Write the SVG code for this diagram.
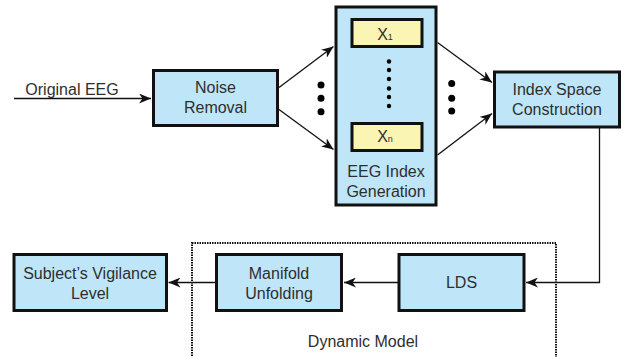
<svg xmlns="http://www.w3.org/2000/svg" width="631" height="357" viewBox="0 0 631 357">
<style>
.box{fill:#bfe6f8;stroke:#111;stroke-width:3}
.xbox{fill:#fbf5b3;stroke:#111;stroke-width:3}
.t{font-family:"Liberation Sans",Arial,sans-serif;font-size:16px;fill:#2e2e2e;text-anchor:middle}
.c{fill:none;stroke:#111;stroke-width:1.3}
.dot{fill:#000}
</style>
<defs>
<marker id="ah" viewBox="0 0 12 10" refX="12" refY="5" markerWidth="12" markerHeight="10" markerUnits="userSpaceOnUse" orient="auto">
<path d="M0,0 L12,5 L0,10 L3.5,5 z" fill="#111"/>
</marker>
</defs>
<rect x="192" y="243" width="364" height="130" fill="none" stroke="#111" stroke-width="2" stroke-dasharray="1.5,1"/>
<text class="t" x="363" y="347">Dynamic Model</text>
<g id="connectors">
<line class="c" x1="14" y1="98.5" x2="151" y2="98.5" marker-end="url(#ah)"/>
<line class="c" x1="279" y1="87.5" x2="333.5" y2="46.5" marker-end="url(#ah)"/>
<line class="c" x1="279" y1="109.5" x2="333.5" y2="149.5" marker-end="url(#ah)"/>
<line class="c" x1="437.5" y1="42.5" x2="492" y2="82.5" marker-end="url(#ah)"/>
<line class="c" x1="437.5" y1="155" x2="492" y2="113.5" marker-end="url(#ah)"/>
<polyline class="c" points="599.5,128 599.5,282.5 526,282.5" marker-end="url(#ah)"/>
<line class="c" x1="398" y1="282.5" x2="344" y2="282.5" marker-end="url(#ah)"/>
<line class="c" x1="215" y1="282.5" x2="168.5" y2="282.5" marker-end="url(#ah)"/>
</g>
<text class="t" x="72" y="95">Original EEG</text>
<g id="noise">
<rect class="box" x="153.5" y="70.5" width="124" height="55"/>
<text class="t" x="215.5" y="92.5">Noise</text>
<text class="t" x="215.5" y="112.5">Removal</text>
</g>
<g id="dots-left">
<circle class="dot" cx="321" cy="85" r="3.5"/>
<circle class="dot" cx="321" cy="98.3" r="3.5"/>
<circle class="dot" cx="321" cy="111.7" r="3.5"/>
</g>
<g id="eeg-index">
<rect class="box" x="336" y="7" width="100" height="198"/>
<rect class="xbox" x="352" y="19.5" width="70" height="27"/>
<text class="t" x="385" y="39.5">X<tspan font-size="9">1</tspan></text>
<g class="dot">
<circle cx="389" cy="61.5" r="2.2"/>
<circle cx="389" cy="70" r="2.2"/>
<circle cx="389" cy="79" r="2.2"/>
<circle cx="389" cy="88.5" r="2.2"/>
<circle cx="389" cy="97" r="2.2"/>
<circle cx="389" cy="106" r="2.2"/>
</g>
<rect class="xbox" x="352" y="123.5" width="70" height="27"/>
<text class="t" x="385" y="142">X<tspan font-size="9">n</tspan></text>
<text class="t" x="386" y="177">EEG Index</text>
<text class="t" x="386" y="196.5">Generation</text>
</g>
<g id="dots-right">
<circle class="dot" cx="451.7" cy="83.5" r="3.5"/>
<circle class="dot" cx="451.7" cy="98.3" r="3.5"/>
<circle class="dot" cx="451.7" cy="111" r="3.5"/>
</g>
<g id="index-space">
<rect class="box" x="494.5" y="72" width="125" height="55"/>
<text class="t" x="557" y="95">Index Space</text>
<text class="t" x="557" y="115">Construction</text>
</g>
<g id="lds">
<rect class="box" x="399" y="254.5" width="125" height="56"/>
<text class="t" x="461.5" y="287.5">LDS</text>
</g>
<g id="manifold">
<rect class="box" x="216.5" y="254.5" width="125" height="56"/>
<text class="t" x="279" y="279">Manifold</text>
<text class="t" x="279" y="299">Unfolding</text>
</g>
<g id="vigilance">
<rect class="box" x="14" y="254.5" width="152.5" height="56"/>
<text class="t" x="90" y="279">Subject’s Vigilance</text>
<text class="t" x="90" y="299">Level</text>
</g>
</svg>
